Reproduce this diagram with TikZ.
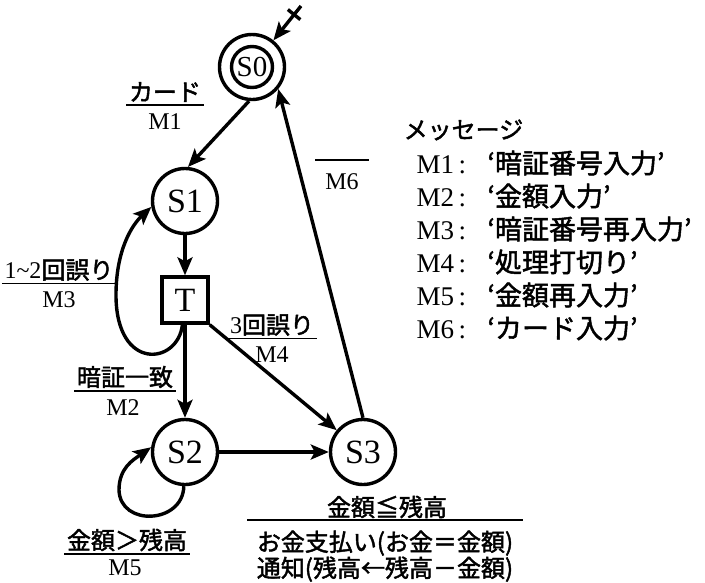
\documentclass[tikz,border=0pt]{standalone}
\usepackage{fontspec}
\setmainfont{Liberation Serif}
\newfontfamily\jp{Noto Sans CJK JP}[FakeBold=1.8]
\usetikzlibrary{arrows.meta,calc}
\newcommand\oq{{\jp\makebox[0.9em][r]{‘}}}
\newcommand\cq{{\jp\makebox[0.9em][l]{’}}}
\begin{document}
\begin{tikzpicture}[x=1pt,y=-1pt,line width=3.4pt,
  state/.style={circle,draw,minimum size=65pt,inner sep=0pt,font=\fontsize{34}{38}\selectfont},
  arr/.style={-{Stealth[length=18pt,width=15pt,inset=4pt]}},
  lbl/.style={font=\fontsize{24}{28}\selectfont,inner sep=1pt},
  ul/.style={line width=1.7pt},
  lst/.style={font=\fontsize{27}{30}\selectfont,anchor=west,inner sep=0pt}]
\useasboundingbox (0,0) rectangle (705,582);

% states
\node[state] (S0) at (252,67) {};
\node[circle,draw,minimum size=41pt,inner sep=0pt,font=\fontsize{29}{30}\selectfont] (S0i) at (S0) {S0};
\node[state] (S1) at (185,201) {S1};
\node[draw,minimum size=46pt,inner sep=0pt,font=\fontsize{34}{38}\selectfont] (T) at (185,300) {T};
\node[state] (S2) at (185,452) {S2};
\node[state] (S3) at (363,452) {S3};

% initial arrow
\coordinate (init) at (301,6);
\draw[arr] (init) -- (S0);
\coordinate (cr) at ($(init)!11pt!(S0)$);
\draw ($(cr)!8pt!90:(S0)$) -- ($(cr)!8pt!-90:(S0)$);

% transitions
\draw[arr] (S0.-95) -- (S1.85);
\draw[arr] (S1) -- (T);
\draw[arr] (T) -- (S2);
\draw[arr] (T.south east) -- (S3);
\draw[arr] (S2) -- (S3);
\draw[arr] (S3.north) -- (S0.-40);
\draw[arr] (T.-96) .. controls (178,365) and (116,372) .. (116,295) .. controls (116,250) and (132,225) .. (S1.190);
\draw[arr] (S2.-92) .. controls (183,524) and (120,527) .. (119,490) .. controls (119,468) and (133,460) .. (S2.172);

% transition labels
\node[lbl] (L1a) at (165,92) {\jp カード};
\draw[ul] (L1a.south west) -- (L1a.south east);
\node[lbl] (L1b) at (165,122) {M1};

\node[lbl] (L3a) at (59,270) {1\textasciitilde2{\jp 回誤り}};
\draw[ul] (L3a.south west) -- (L3a.south east);
\node[lbl] (L3b) at (59,300) {M3};

\node[lbl] (L4a) at (272,325) {3{\jp 回誤り}};
\draw[ul] (L4a.south west) -- (L4a.south east);
\node[lbl] (L4b) at (272,355) {M4};

\node[lbl] (L2a) at (125,377) {\jp 暗証一致};
\draw[ul] (L2a.south west) -- (L2a.south east);
\node[lbl] (L2b) at (123,408) {M2};

\node[lbl] (L5a) at (127,540) {\jp 金額＞残高};
\draw[ul] (L5a.south west) -- (L5a.south east);
\node[lbl] (L5b) at (125,568) {M5};

\node[lbl,minimum width=50pt,inner ysep=12pt] (L6) at (342,182) {M6};
\draw[ul] (L6.north west) -- (L6.north east);

% S3 condition / actions
\node[lbl] (cond) at (387,507) {\jp 金額≦残高};
\node[anchor=north,align=center,inner xsep=8pt,inner ysep=9pt,font=\jp\fontsize{24}{25}\selectfont] (act) at (385,520) {お金支払い(お金＝金額)\\通知(残高←残高－金額)};
\draw[ul] (act.north west) -- (act.north east);

% message list
\node[lst,font=\fontsize{24}{28}\selectfont] (ttl) at (402,130) {\jp メッセージ};
\node[lst] (m1) at (415,163) {M1\,:\,\oq{\jp 暗証番号入力}\cq};
\node[lst] (m2) at (415,196) {M2\,:\,\oq{\jp 金額入力}\cq};
\node[lst] (m3) at (415,229) {M3\,:\,\oq{\jp 暗証番号再入力}\cq};
\node[lst] (m4) at (415,262) {M4\,:\,\oq{\jp 処理打切り}\cq};
\node[lst] (m5) at (415,295) {M5\,:\,\oq{\jp 金額再入力}\cq};
\node[lst] (m6) at (415,328) {M6\,:\,\oq{\jp カード入力}\cq};
\end{tikzpicture}
\end{document}
